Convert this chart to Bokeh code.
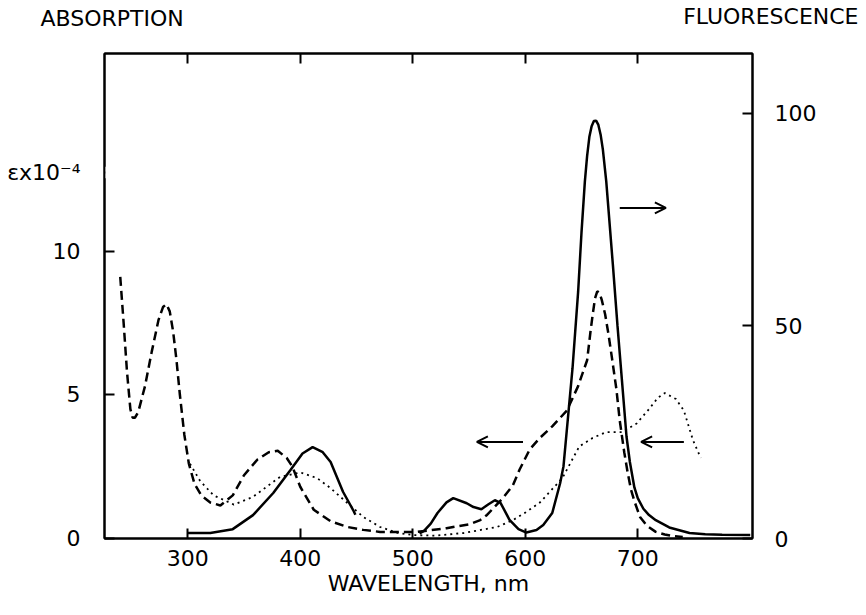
from bokeh.plotting import figure
from bokeh.models import Range1d, LinearAxis, FixedTicker, Arrow, OpenHead, BoxAnnotation, Label
from bokeh.embed import file_html
from bokeh.resources import INLINE

NaN = float("nan")

# ---- data ----
# dashed absorption curve (left axis, eps x 1e-4)
dash_nm = [240, 243, 246, 249, 251, 253, 256, 262, 268, 274, 278, 281, 284, 287, 290, 293, 297,
           301, 306, 312, 320, 329, 340, 350, 362, 372, 380, 388, 393, 400, 412, 427, 442, 456, 471,
           504, 530, 551, 560, 566, 580, 589, 595, 604, 613, 624, 637, 647, 655, 658, 660, 662, 664,
           666, 668, 671, 674, 677, 681, 684, 688, 691, 694, 697, 702, 708, 716, 724, 732, 740]
dash_eps = [9.1, 7.5, 5.8, 4.5, 4.2, 4.2, 4.4, 5.3, 6.5, 7.6, 8.05, 8.15, 7.9, 7.2, 6.2, 5.0, 3.6,
            2.6, 1.9, 1.5, 1.25, 1.15, 1.5, 2.2, 2.75, 3.0, 3.05, 2.8, 2.5, 1.8, 1.0, 0.6, 0.4, 0.3, 0.23,
            0.23, 0.36, 0.5, 0.64, 0.82, 1.4, 1.85, 2.4, 3.1, 3.5, 3.9, 4.45, 5.3, 6.2, 7.2, 7.8, 8.35, 8.6,
            8.55, 8.3, 7.8, 7.1, 6.3, 5.2, 4.1, 3.0, 2.3, 1.7, 1.3, 0.75, 0.45, 0.23, 0.14, 0.08, 0.05]

# dotted absorption curve (left axis, eps x 1e-4)
dot_nm = [302, 311, 323, 341, 358, 382, 400, 415, 427, 442, 456, 471, 486, 500, 520, 545, 575, 589,
          600, 613, 633, 648, 660, 672, 686, 699, 710, 718, 724, 734, 741, 749, 756]
dot_eps = [2.6, 2.0, 1.5, 1.18, 1.45, 2.14, 2.3, 2.1, 1.75, 1.23, 0.75, 0.4, 0.2, 0.12, 0.1, 0.19, 0.4, 0.64,
           0.9, 1.25, 2.1, 3.2, 3.5, 3.7, 3.7, 4.0, 4.5, 4.9, 5.06, 4.85, 4.45, 3.43, 2.8]

# solid fluorescence curve (right axis); the curve is interrupted between ~450 and ~505 nm
sol_nm = [300, 320, 340, 358, 376, 391, 402, 411, 420, 427, 438, 447, 449, NaN,
          506, 510, 516, 522, 530, 536, 548, 554, 561, 567, 573, 578, 586, 594, 601, 610, 616, 624,
          631, 634, 642, 647, 650, 653, 655, 657, 659, 661, 663, 665, 667, 669, 672, 675, 678, 682,
          686, 690, 693, 697, 700, 705, 710, 716, 728, 746, 760, 775, 800]
sol_fl = [1.3, 1.3, 2.2, 5.5, 10.7, 16, 20, 21.5, 20.3, 18, 11, 6.7, 5.6, NaN,
          1.2, 1.8, 3.5, 6, 8.5, 9.5, 8.3, 7.4, 6.9, 8.0, 9.0, 8.4, 4.4, 2.2, 1.4, 2.0, 3.2, 6,
          13, 17, 40, 58, 72, 84, 90, 94.5, 97, 98.2, 98.3, 97.3, 95, 91.5, 84, 74, 64, 50,
          37, 24, 18, 12, 9.5, 7, 5.5, 4.3, 2.6, 1.3, 1.0, 0.9, 0.8]

x_ticks = [300, 400, 500, 600, 700]
left_ticks = [0, 5, 10]
right_ticks = [0, 50, 100]
eps_label_at = 12.73          # left-scale height of the "εx10⁻⁴" unit label
eps_label = "\u03b5x10\u207b\u2074"

# arrows: (x_start, x_end, y on left scale)
arrows = [(684, 725, 11.5), (598, 557, 3.36), (741, 703, 3.36)]

FONT = "DejaVu Sans"

p = figure(width=860, height=600, x_range=Range1d(226, 802), y_range=Range1d(0, 16.87),
           output_backend="svg", toolbar_location=None,
           x_axis_location=None, y_axis_location=None,
           min_border_left=104, min_border_right=108, min_border_top=53, min_border_bottom=62)
p.grid.visible = False
p.outline_line_color = "black"
p.outline_line_width = 2
p.extra_y_ranges = {"fl": Range1d(0, 114.1)}

def style(ax):
    ax.axis_line_color = "black"
    ax.axis_line_width = 2
    ax.major_tick_in = 10
    ax.major_tick_out = 0
    ax.major_tick_line_width = 2
    ax.major_tick_line_color = "black"
    ax.minor_tick_line_color = None
    ax.major_label_text_font = FONT
    ax.major_label_text_font_size = "22px"
    ax.major_label_text_color = "black"

bottom = LinearAxis(ticker=FixedTicker(ticks=x_ticks))
style(bottom)
bottom.major_label_standoff = 11
bottom.axis_label = "WAVELENGTH, nm"
bottom.axis_label_text_font = FONT
bottom.axis_label_text_font_size = "22px"
bottom.axis_label_text_font_style = "normal"
bottom.axis_label_text_color = "black"
bottom.axis_label_standoff = 2
p.add_layout(bottom, "below")

top = LinearAxis(ticker=FixedTicker(ticks=x_ticks),
                 major_label_overrides={t: "" for t in x_ticks})
style(top)
top.major_label_standoff = 0
top.major_label_text_font_size = "1px"
p.add_layout(top, "above")

left = LinearAxis(ticker=FixedTicker(ticks=left_ticks + [eps_label_at]),
                  major_label_overrides={eps_label_at: eps_label})
style(left)
left.major_label_standoff = 24
left.major_label_orientation = "horizontal"
p.add_layout(left, "left")

right = LinearAxis(y_range_name="fl", ticker=FixedTicker(ticks=right_ticks))
style(right)
right.major_label_standoff = 22
right.major_label_orientation = "horizontal"
p.add_layout(right, "right")

# side titles, placed in the panel above the frame (not clipped there)
p.add_layout(Label(text="ABSORPTION", x=-64, y=35, x_units="screen", y_units="screen",
                   text_font=FONT, text_font_size="22px", text_align="left",
                   text_baseline="middle", text_color="black"), "above")
p.add_layout(Label(text="FLUORESCENCE", x=754, y=12, x_units="screen", y_units="screen",
                   text_font=FONT, text_font_size="22px", text_align="right",
                   text_baseline="middle", text_color="black"), "above")

# hide the tick mark that carries the unit label
p.add_layout(BoxAnnotation(left=226.9, right=238, bottom=eps_label_at - 0.2, top=eps_label_at + 0.2,
                           fill_color="white", fill_alpha=1.0, line_color=None, level="overlay"))

p.line(dash_nm, dash_eps, line_color="black", line_width=2.5, line_dash="9 5")
p.line(dot_nm, dot_eps, line_color="black", line_width=1.8, line_dash="2 4")
p.line(sol_nm, sol_fl, y_range_name="fl", line_color="black", line_width=2.5)

for xs, xe, yy in arrows:
    p.add_layout(Arrow(end=OpenHead(size=11, line_width=2, line_color="black"),
                       x_start=xs, y_start=yy, x_end=xe, y_end=yy,
                       line_width=2, line_color="black"))

open("out.html", "w").write(file_html(p, INLINE))
